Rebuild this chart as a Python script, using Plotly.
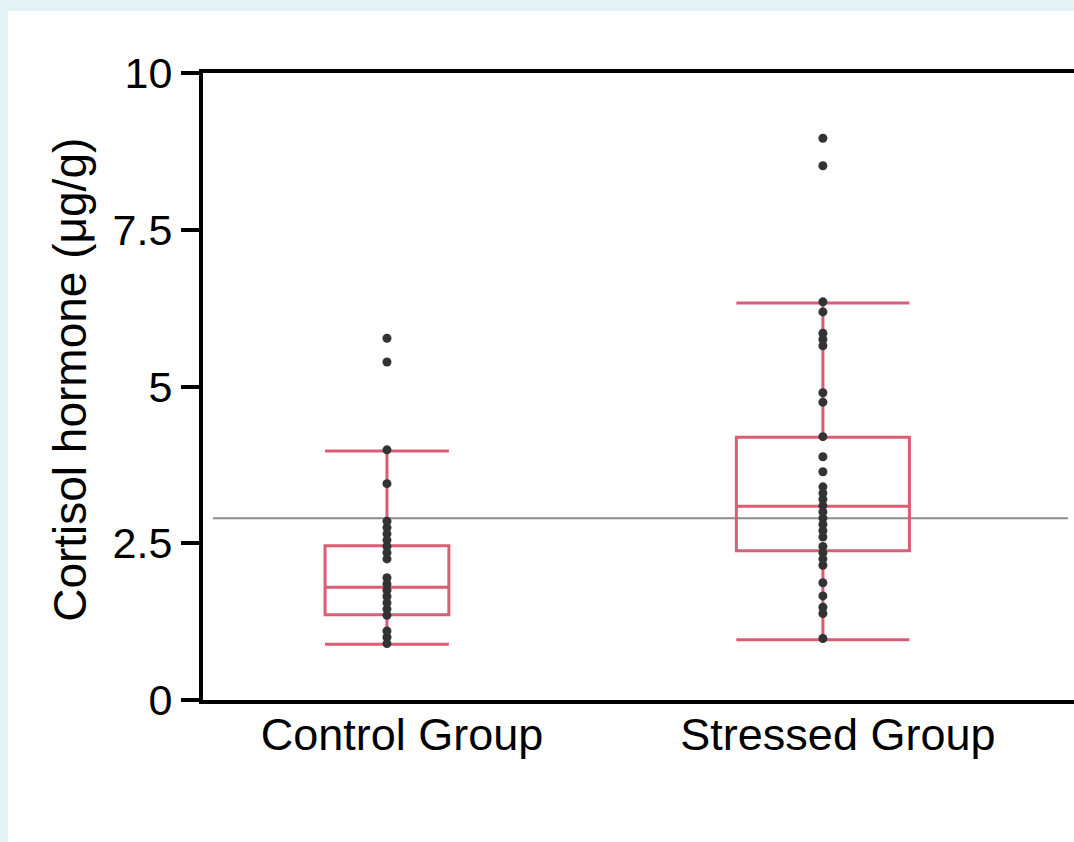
import plotly.graph_objects as go

groups = ["Control Group", "Stressed Group"]

# box statistics
q1 = [1.36, 2.38]
median = [1.80, 3.09]
q3 = [2.46, 4.19]
lowerfence = [0.89, 0.96]
upperfence = [3.97, 6.33]

# individual points
control_points = [5.77, 5.39, 3.99, 3.45, 2.85, 2.75, 2.65, 2.55, 2.45, 2.35, 2.25,
                  1.95, 1.85, 1.75, 1.65, 1.55, 1.45, 1.35, 1.10, 1.00, 0.90]
stressed_points = [8.96, 8.52, 6.35, 6.19, 5.85, 5.75, 5.65, 4.90, 4.75, 4.20, 3.88,
                   3.64, 3.40, 3.30, 3.20, 3.10, 3.00, 2.90, 2.80, 2.70, 2.60, 2.45,
                   2.35, 2.25, 2.15, 1.87, 1.66, 1.48, 1.38, 0.98]

reference_level = 2.90

y_ticks = [0, 2.5, 5, 7.5, 10]
y_ticktext = ["0", "2.5", "5", "7.5", "10"]

box_widths = [0.284, 0.397]
box_color = "#dc5c76"
dot_color = "#333333"

fig = go.Figure()

for i, g in enumerate(groups):
    fig.add_trace(go.Box(
        x=[g], q1=[q1[i]], median=[median[i]], q3=[q3[i]],
        lowerfence=[lowerfence[i]], upperfence=[upperfence[i]],
        width=box_widths[i], whiskerwidth=1,
        boxpoints=False,
        line=dict(color=box_color, width=3),
        fillcolor="rgba(0,0,0,0)",
        showlegend=False, hoverinfo="skip",
    ))

fig.add_trace(go.Scatter(
    x=[groups[0]] * len(control_points), y=control_points, mode="markers",
    marker=dict(color=dot_color, size=9), showlegend=False,
))
fig.add_trace(go.Scatter(
    x=[groups[1]] * len(stressed_points), y=stressed_points, mode="markers",
    marker=dict(color=dot_color, size=9), showlegend=False,
))

font_family = "Liberation Sans, Arial, sans-serif"

fig.update_layout(
    width=1074, height=842,
    margin=dict(l=203, r=0, t=73, b=142),
    paper_bgcolor="#e2f2f5",
    plot_bgcolor="white",
    font=dict(family=font_family, color="black"),
    boxmode="overlay",
    xaxis=dict(
        type="category",
        categoryorder="array", categoryarray=groups,
        range=[-0.422, 1.576],
        showline=True, linecolor="black", linewidth=4, mirror=True,
        ticks="", showgrid=False, zeroline=False,
        tickfont=dict(size=45, family=font_family, color="black"),
        ticklabelshift=15, ticklabelstandoff=-8,
    ),
    yaxis=dict(
        range=[0, 10],
        tickvals=y_ticks, ticktext=y_ticktext,
        showline=True, linecolor="black", linewidth=4, mirror=False,
        ticks="outside", ticklen=18, tickwidth=4, tickcolor="black",
        showgrid=False, zeroline=False,
        tickfont=dict(size=43, family=font_family, color="black"),
    ),
    shapes=[
        dict(type="rect", xref="paper", yref="paper",
             x0=-0.2239, x1=1.05, y0=-0.3, y1=1.0989,
             fillcolor="white", line=dict(width=0), layer="below"),
        dict(type="line", xref="paper", yref="y",
             x0=0.0115, x1=0.993, y0=reference_level, y1=reference_level,
             line=dict(color="#8c8c8c", width=2), layer="below"),
    ],
    annotations=[
        dict(text="Cortisol hormone (μg/g)", xref="paper", yref="paper",
             x=-0.152, y=0.51, xanchor="center", yanchor="middle",
             textangle=-90, showarrow=False,
             font=dict(size=46, family=font_family, color="black")),
    ],
)

fig.write_html("out.html", config={"displayModeBar": False},
               post_script="document.body.style.margin='0';")
